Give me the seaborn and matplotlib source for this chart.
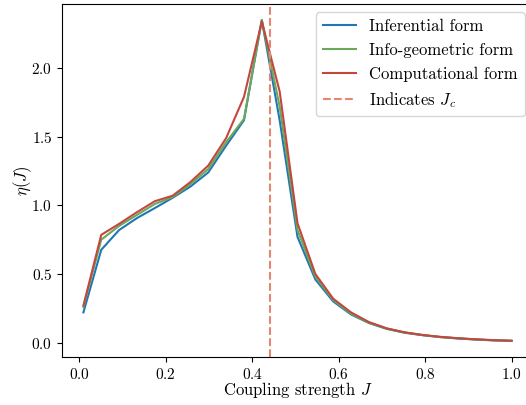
import numpy as np
import pandas as pd
import matplotlib
matplotlib.use("Agg")
import matplotlib.pyplot as plt
import seaborn as sns

J = [0.01, 0.05125, 0.0925, 0.13375, 0.175, 0.21625, 0.2575, 0.29875, 0.34,
     0.38125, 0.4225, 0.46375, 0.505, 0.54625, 0.5875, 0.62875, 0.67, 0.71125,
     0.7525, 0.79375, 0.835, 0.87625, 0.9175, 0.95875, 1.0]

inferential = [0.22, 0.676, 0.82, 0.907, 0.98, 1.055, 1.137, 1.24, 1.435,
               1.62, 2.35, 1.62, 0.77, 0.46, 0.30, 0.205, 0.143, 0.10,
               0.072, 0.054, 0.04, 0.03, 0.022, 0.016, 0.012]
info_geometric = [0.26, 0.75, 0.85, 0.93, 1.01, 1.06, 1.155, 1.265, 1.46,
                  1.63, 2.35, 1.72, 0.82, 0.48, 0.31, 0.21, 0.146, 0.102,
                  0.074, 0.055, 0.041, 0.031, 0.023, 0.017, 0.013]
computational = [0.27, 0.785, 0.865, 0.95, 1.03, 1.07, 1.17, 1.29, 1.49,
                 1.79, 2.34, 1.83, 0.87, 0.50, 0.32, 0.22, 0.15, 0.104,
                 0.075, 0.056, 0.042, 0.032, 0.024, 0.018, 0.014]
J_c = 0.4407

labels = ["Inferential form", "Info-geometric form", "Computational form"]
colors = ["#1f77b4", "#6aa85a", "#c4473f"]
series = [inferential, info_geometric, computational]

plt.rcParams["font.family"] = "serif"
plt.rcParams["font.serif"] = ["cmr10"]
plt.rcParams["mathtext.fontset"] = "cm"
plt.rcParams["axes.formatter.use_mathtext"] = True
plt.rcParams["axes.unicode_minus"] = False

fig = plt.figure(figsize=(5.26, 4.05), dpi=100)
ax = fig.add_axes([62/526, 48/405, (533-62)/526, (357-4)/405])

for lab, col, vals in zip(labels, colors, series):
    df = pd.DataFrame({"J": J, "eta": vals})
    sns.lineplot(data=df, x="J", y="eta", ax=ax, color=col, label=lab,
                 linewidth=1.5)

ax.axvline(J_c, color="#e5876e", linestyle="--", linewidth=1.5,
           label=r"Indicates $J_c$")

ax.set_xticks([0.0, 0.2, 0.4, 0.6, 0.8, 1.0])
ax.set_yticks([0.0, 0.5, 1.0, 1.5, 2.0])
ax.tick_params(labelsize=11)
ax.set_xlabel(r"Coupling strength $J$", fontsize=12, labelpad=-1)
ax.set_ylabel(r"$\eta(J)$", fontsize=12, labelpad=-2)
ax.legend(loc="upper right", fontsize=12)

fig.savefig("out.png", dpi=100)
